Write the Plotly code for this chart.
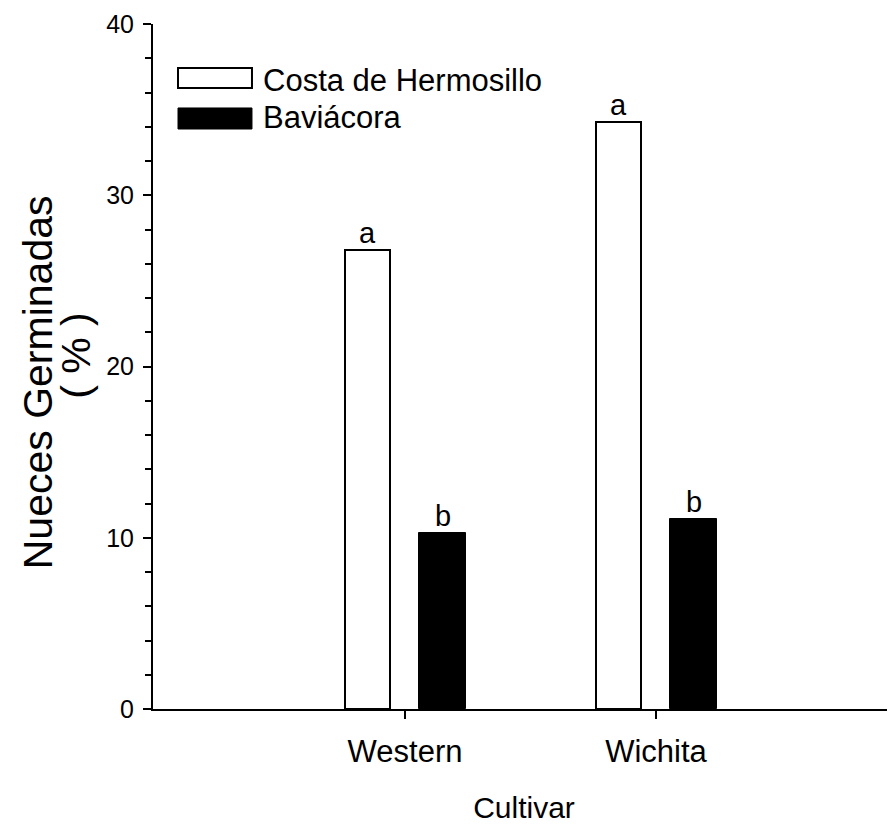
import plotly.graph_objects as go

# ---- data ----
cultivars = ["Western", "Wichita"]
series_names = ["Costa de Hermosillo", "Baviácora"]
costa_values = [26.8, 34.3]
baviacora_values = [10.3, 11.1]
costa_letters = ["a", "a"]
baviacora_letters = ["b", "b"]
y_tick_vals = [0, 10, 20, 30, 40]
y_title_lines = ["Nueces Germinadas", "( % )"]
x_title = "Cultivar"

FONT = "Liberation Sans, Arial, sans-serif"
xpos = list(range(len(cultivars)))

fig = go.Figure()
fig.add_trace(go.Bar(
    x=xpos, y=costa_values, name=series_names[0],
    offset=-0.239, width=0.18,
    marker=dict(color="white", line=dict(color="black", width=2)),
    showlegend=False,
))
fig.add_trace(go.Bar(
    x=xpos, y=baviacora_values, name=series_names[1],
    offset=0.056, width=0.187,
    marker=dict(color="black", line=dict(color="black", width=1)),
    showlegend=False,
))

annotations = []
for i, (v, t) in enumerate(zip(costa_values, costa_letters)):
    annotations.append(dict(x=i - 0.239 + 0.09, y=v, xref="x", yref="y", text=t,
                            showarrow=False, yanchor="bottom", yshift=-1,
                            font=dict(family=FONT, size=29, color="black")))
for i, (v, t) in enumerate(zip(baviacora_values, baviacora_letters)):
    annotations.append(dict(x=i + 0.056 + 0.0935, y=v, xref="x", yref="y", text=t,
                            showarrow=False, yanchor="bottom", yshift=-1,
                            font=dict(family=FONT, size=29, color="black")))

# custom legend (paper coordinates)
shapes = [
    dict(type="rect", xref="paper", yref="paper", x0=0.0337, x1=0.1334, y0=0.9066, y1=0.9358,
         fillcolor="white", line=dict(color="black", width=2)),
    dict(type="rect", xref="paper", yref="paper", x0=0.0337, x1=0.1334, y0=0.8467, y1=0.8774,
         fillcolor="black", line=dict(color="black", width=1)),
]
annotations.append(dict(x=0.145, y=0.9182, xref="paper", yref="paper", text=series_names[0],
                        showarrow=False, xanchor="left", yanchor="middle",
                        font=dict(family=FONT, size=31, color="black")))
annotations.append(dict(x=0.145, y=0.8628, xref="paper", yref="paper", text=series_names[1],
                        showarrow=False, xanchor="left", yanchor="middle",
                        font=dict(family=FONT, size=31, color="black")))

# y-axis title as two rotated lines
annotations.append(dict(x=-0.155, y=0.477, xref="paper", yref="paper", text=y_title_lines[0],
                        textangle=-90, showarrow=False, xanchor="center", yanchor="middle",
                        font=dict(family=FONT, size=41, color="black")))
annotations.append(dict(x=-0.1038, y=0.517, xref="paper", yref="paper", text=y_title_lines[1],
                        textangle=-90, showarrow=False, xanchor="center", yanchor="middle",
                        font=dict(family=FONT, size=41, color="black")))

# page body has an 8px margin, so figure is sized/offset accordingly
fig.update_layout(
    width=887, height=822,
    margin=dict(l=145, r=0, t=16, b=121, autoexpand=False),
    paper_bgcolor="white", plot_bgcolor="white",
    font=dict(family=FONT, color="black"),
    shapes=shapes, annotations=annotations,
    bargap=0,
)
fig.update_xaxes(
    range=[-1.004, 1.952], tickvals=xpos, ticktext=cultivars,
    showline=True, linecolor="black", linewidth=2,
    ticks="outside", ticklen=8, tickwidth=1.5, tickcolor="black",
    tickfont=dict(family=FONT, size=31), ticklabelstandoff=6,
    showgrid=False, zeroline=False,
    title=dict(text=x_title, font=dict(family=FONT, size=30), standoff=29),
)
fig.update_yaxes(
    range=[0, 40], tickvals=y_tick_vals,
    showline=True, linecolor="black", linewidth=2,
    ticks="outside", ticklen=8, tickwidth=1.5, tickcolor="black",
    tickfont=dict(family=FONT, size=25), ticklabelstandoff=4,
    minor=dict(dtick=2, ticks="outside", ticklen=6, tickwidth=1.5, tickcolor="black", showgrid=False),
    showgrid=False, zeroline=False,
)

fig.write_html("out.html")
